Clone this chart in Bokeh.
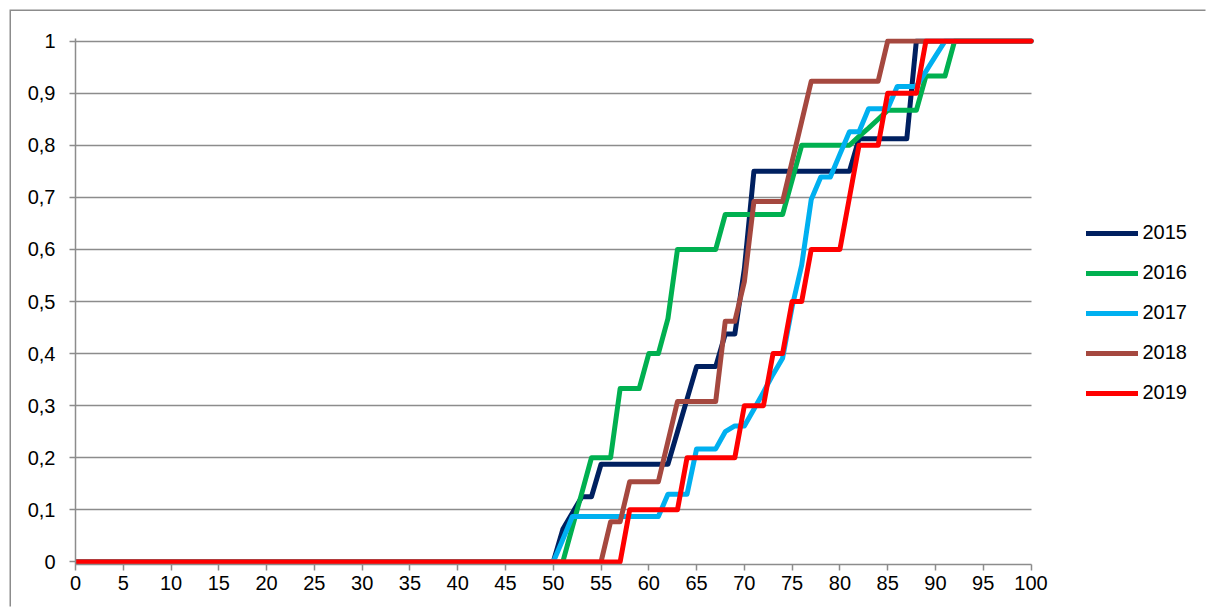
from bokeh.plotting import figure
from bokeh.models import Range1d, FixedTicker, Legend, LegendItem
from bokeh.embed import file_html
from bokeh.resources import INLINE

# ---- data ----
x_values = list(range(0, 101))
x_tick_values = list(range(0, 101, 5))
y_tick_values = [0, 0.1, 0.2, 0.3, 0.4, 0.5, 0.6, 0.7, 0.8, 0.9, 1]
y_tick_labels = ["0", "0,1", "0,2", "0,3", "0,4", "0,5", "0,6", "0,7", "0,8", "0,9", "1"]
y_grid_values = [0.1, 0.2, 0.3, 0.4, 0.5, 0.6, 0.7, 0.8, 0.9, 1]

series_names = ["2015", "2016", "2017", "2018", "2019"]
series_colors = ["#002060", "#00B050", "#00B0F0", "#A5483F", "#FF0000"]

y_2015 = [
    0, 0, 0, 0, 0, 0, 0, 0, 0, 0,
    0, 0, 0, 0, 0, 0, 0, 0, 0, 0,
    0, 0, 0, 0, 0, 0, 0, 0, 0, 0,
    0, 0, 0, 0, 0, 0, 0, 0, 0, 0,
    0, 0, 0, 0, 0, 0, 0, 0, 0, 0,
    0, 0.0625, 0.094, 0.125, 0.125, 0.1875, 0.1875, 0.1875, 0.1875, 0.1875,
    0.1875, 0.1875, 0.1875, 0.25, 0.3125, 0.375, 0.375, 0.375, 0.4375, 0.4375,
    0.5625, 0.75, 0.75, 0.75, 0.75, 0.75, 0.75, 0.75, 0.75, 0.75,
    0.75, 0.75, 0.8125, 0.8125, 0.8125, 0.8125, 0.8125, 0.8125, 1, 1,
    1, 1, 1, 1, 1, 1, 1, 1, 1, 1,
    1,
]
y_2016 = [
    0, 0, 0, 0, 0, 0, 0, 0, 0, 0,
    0, 0, 0, 0, 0, 0, 0, 0, 0, 0,
    0, 0, 0, 0, 0, 0, 0, 0, 0, 0,
    0, 0, 0, 0, 0, 0, 0, 0, 0, 0,
    0, 0, 0, 0, 0, 0, 0, 0, 0, 0,
    0, 0, 0.067, 0.133, 0.2, 0.2, 0.2, 0.333, 0.333, 0.333,
    0.4, 0.4, 0.467, 0.6, 0.6, 0.6, 0.6, 0.6, 0.667, 0.667,
    0.667, 0.667, 0.667, 0.667, 0.667, 0.733, 0.8, 0.8, 0.8, 0.8,
    0.8, 0.8, 0.817, 0.833, 0.85, 0.867, 0.867, 0.867, 0.867, 0.933,
    0.933, 0.933, 1, 1, 1, 1, 1, 1, 1, 1,
    1,
]
y_2017 = [
    0, 0, 0, 0, 0, 0, 0, 0, 0, 0,
    0, 0, 0, 0, 0, 0, 0, 0, 0, 0,
    0, 0, 0, 0, 0, 0, 0, 0, 0, 0,
    0, 0, 0, 0, 0, 0, 0, 0, 0, 0,
    0, 0, 0, 0, 0, 0, 0, 0, 0, 0,
    0, 0.043, 0.087, 0.087, 0.087, 0.087, 0.087, 0.087, 0.087, 0.087,
    0.087, 0.087, 0.13, 0.13, 0.13, 0.217, 0.217, 0.217, 0.25, 0.261,
    0.261, 0.293, 0.326, 0.36, 0.391, 0.49, 0.57, 0.696, 0.739, 0.739,
    0.783, 0.826, 0.826, 0.87, 0.87, 0.87, 0.913, 0.913, 0.913, 0.942,
    0.971, 1, 1, 1, 1, 1, 1, 1, 1, 1,
    1,
]
y_2018 = [
    0, 0, 0, 0, 0, 0, 0, 0, 0, 0,
    0, 0, 0, 0, 0, 0, 0, 0, 0, 0,
    0, 0, 0, 0, 0, 0, 0, 0, 0, 0,
    0, 0, 0, 0, 0, 0, 0, 0, 0, 0,
    0, 0, 0, 0, 0, 0, 0, 0, 0, 0,
    0, 0, 0, 0, 0, 0, 0.077, 0.077, 0.154, 0.154,
    0.154, 0.154, 0.231, 0.308, 0.308, 0.308, 0.308, 0.308, 0.462, 0.462,
    0.538, 0.692, 0.692, 0.692, 0.692, 0.769, 0.846, 0.923, 0.923, 0.923,
    0.923, 0.923, 0.923, 0.923, 0.923, 1, 1, 1, 1, 1,
    1, 1, 1, 1, 1, 1, 1, 1, 1, 1,
    1,
]
y_2019 = [
    0, 0, 0, 0, 0, 0, 0, 0, 0, 0,
    0, 0, 0, 0, 0, 0, 0, 0, 0, 0,
    0, 0, 0, 0, 0, 0, 0, 0, 0, 0,
    0, 0, 0, 0, 0, 0, 0, 0, 0, 0,
    0, 0, 0, 0, 0, 0, 0, 0, 0, 0,
    0, 0, 0, 0, 0, 0, 0, 0, 0.1, 0.1,
    0.1, 0.1, 0.1, 0.1, 0.2, 0.2, 0.2, 0.2, 0.2, 0.2,
    0.3, 0.3, 0.3, 0.4, 0.4, 0.5, 0.5, 0.6, 0.6, 0.6,
    0.6, 0.7, 0.8, 0.8, 0.8, 0.9, 0.9, 0.9, 0.9, 1,
    1, 1, 1, 1, 1, 1, 1, 1, 1, 1,
    1,
]
series_values = [y_2015, y_2016, y_2017, y_2018, y_2019]

# ---- figure ----
FONT = "Liberation Sans"
GREY = "#8c8c8c"

# the frame is widened to the right so the legend can sit inside it;
# axis and grid are bounded to the 0..100 data span
p = figure(
    width=1196, height=597,
    output_backend="svg", toolbar_location=None,
    x_range=Range1d(0, 118.47), y_range=Range1d(-0.005, 1.005),
    min_border_left=64, min_border_top=27, min_border_right=0, min_border_bottom=44,
)
p.styles = {
    "margin-left": "10.5px", "margin-top": "10.5px",
    "box-shadow": "-1.5px -1.5px 0px 0px #8c8c8c",
}
p.outline_line_color = None
p.background_fill_color = "white"
p.border_fill_color = "white"

# axes
p.xaxis.ticker = FixedTicker(ticks=x_tick_values)
p.xaxis.bounds = (0, 100)
p.yaxis.ticker = FixedTicker(ticks=y_tick_values)
p.yaxis.major_label_overrides = {v: s for v, s in zip(y_tick_values, y_tick_labels)}
for ax in (p.xaxis, p.yaxis):
    ax.axis_line_color = GREY
    ax.axis_line_width = 1.5
    ax.major_tick_line_color = GREY
    ax.major_tick_line_width = 1.5
    ax.major_tick_out = 6
    ax.major_tick_in = 0
    ax.minor_tick_out = 0
    ax.minor_tick_in = 0
    ax.major_label_text_font = FONT
    ax.major_label_text_font_size = "20px"
    ax.major_label_text_color = "black"
p.xaxis.major_label_standoff = 5
p.yaxis.major_label_standoff = 14

# grid
p.xgrid.visible = False
p.ygrid.ticker = FixedTicker(ticks=y_grid_values)
p.ygrid.cross_bounds = (0, 100)
p.ygrid.grid_line_color = GREY
p.ygrid.grid_line_width = 1.5

# lines
items = []
for name, color, vals in zip(series_names, series_colors, series_values):
    r = p.line(x_values, vals, line_color=color, line_width=5,
               line_join="round", line_cap="round")
    items.append(LegendItem(label=name, renderers=[r]))

legend = Legend(
    items=items, location=(1011, 159),
    glyph_width=52, glyph_height=24, label_height=24, spacing=16,
    label_standoff=5, padding=0, margin=0,
    border_line_color=None, background_fill_alpha=0,
    label_text_font=FONT, label_text_font_size="20px", label_text_color="black",
)
p.add_layout(legend, "center")

open("out.html", "w").write(file_html(p, INLINE))
